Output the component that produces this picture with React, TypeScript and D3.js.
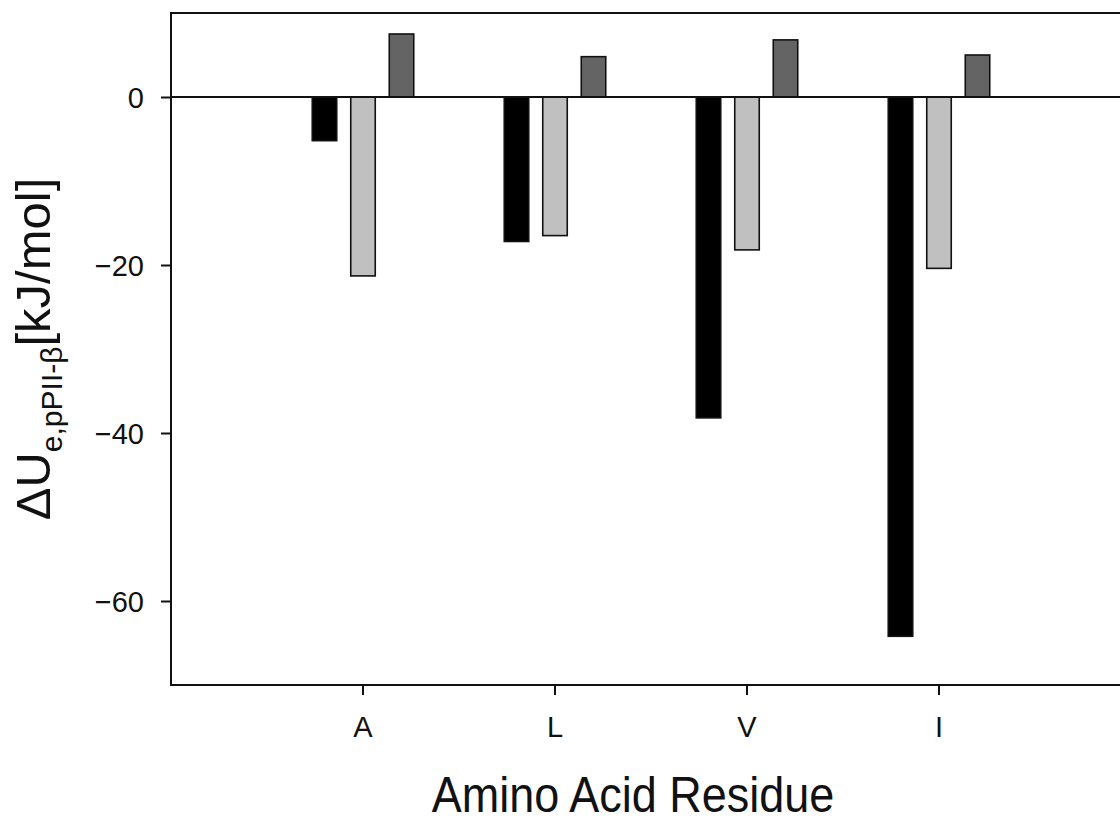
import { useEffect, useRef } from 'react';
import * as d3 from 'd3';

// Chart data
const residues = ["A", "L", "V", "I"];
const seriesKeys = ["s1", "s2", "s3"];
const series1 = [-5.2, -17.2, -38.2, -64.2];
const series2 = [-21.3, -16.5, -18.2, -20.4];
const series3 = [7.5, 4.8, 6.8, 5.0];
const yTicks = [0, -20, -40, -60];

const COLOR_S1 = "#000000";
const COLOR_S2 = "#c0c0c0";
const COLOR_S3 = "#646464";
const FONT = "Arial, 'Liberation Sans', sans-serif";

export default function App() {
  const ref = useRef<SVGSVGElement>(null);

  useEffect(() => {
    if (!ref.current) return;
    const svg = d3.select(ref.current);
    svg.selectAll("*").remove();

    const left = 171;
    const top = 13;
    const bottom = 685;
    const step = 192;
    const right = left + step * 5;

    const y = d3.scaleLinear().domain([-70, 10]).range([bottom, top]);
    const x = d3.scaleBand()
      .domain(residues)
      .range([left + step / 2, left + step / 2 + step * residues.length])
      .paddingInner(0);
    const xs = d3.scaleBand()
      .domain(seriesKeys)
      .range([-50.75, 50.75])
      .paddingInner(0.364)
      .paddingOuter(0);

    const colors = [COLOR_S1, COLOR_S2, COLOR_S3];
    const allSeries = [series1, series2, series3];

    const rows = residues.flatMap((r, i) =>
      allSeries.map((s, k) => ({ r, key: seriesKeys[k], v: s[i], color: colors[k] })));

    // bars
    svg.append("g")
      .selectAll("rect")
      .data(rows)
      .join("rect")
      .attr("x", d => x(d.r)! + x.bandwidth() / 2 + xs(d.key)!)
      .attr("y", d => y(Math.max(0, d.v)))
      .attr("width", xs.bandwidth())
      .attr("height", d => Math.abs(y(d.v) - y(0)))
      .attr("fill", d => d.color)
      .attr("stroke", "#111")
      .attr("stroke-width", 1.6);

    // zero line
    svg.append("line")
      .attr("x1", left).attr("x2", right)
      .attr("y1", y(0)).attr("y2", y(0))
      .attr("stroke", "#111").attr("stroke-width", 2);

    // frame (top, left, bottom) - right side runs off the picture
    svg.append("path")
      .attr("d", `M${right},${top}H${left}V${bottom}H${right}`)
      .attr("fill", "none")
      .attr("stroke", "#111")
      .attr("stroke-width", 2);

    // y axis
    const yAxis = svg.append("g")
      .attr("transform", `translate(${left},0)`)
      .call(d3.axisLeft(y).tickValues(yTicks).tickSize(10).tickPadding(17).tickFormat(d3.format("d")));
    yAxis.select(".domain").remove();
    yAxis.selectAll("line").attr("stroke", "#111").attr("stroke-width", 2);
    yAxis.selectAll("text")
      .attr("font-family", FONT)
      .attr("font-size", 29)
      .attr("fill", "#111")
      .attr("dy", "0.36em");

    // x axis
    const xAxis = svg.append("g")
      .attr("transform", `translate(0,${bottom})`)
      .call(d3.axisBottom(x).tickSize(10).tickPadding(21));
    xAxis.select(".domain").remove();
    xAxis.selectAll("line").attr("stroke", "#111").attr("stroke-width", 2);
    xAxis.selectAll("text")
      .attr("font-family", FONT)
      .attr("font-size", 29)
      .attr("fill", "#111");

    // axis titles
    svg.append("text")
      .attr("transform", "translate(633,812) scale(1,1.12)")
      .attr("text-anchor", "middle")
      .attr("font-family", FONT)
      .attr("font-size", 45)
      .attr("fill", "#111")
      .text("Amino Acid Residue");

    const yl = svg.append("text")
      .attr("transform", `translate(50,${(top + bottom) / 2}) rotate(-90)`)
      .attr("text-anchor", "middle")
      .attr("font-family", FONT)
      .attr("font-size", 49)
      .attr("fill", "#111");
    yl.append("tspan").text("ΔU");
    yl.append("tspan").attr("font-size", 30).attr("dy", 12).text("e,pPII-β");
    yl.append("tspan").attr("dy", -12).text("[kJ/mol]");
  }, []);

  return (
    <svg
      ref={ref}
      width={1120}
      height={823}
      style={{ position: 'absolute', left: 0, top: 0, background: '#fff' }}
    />
  );
}
